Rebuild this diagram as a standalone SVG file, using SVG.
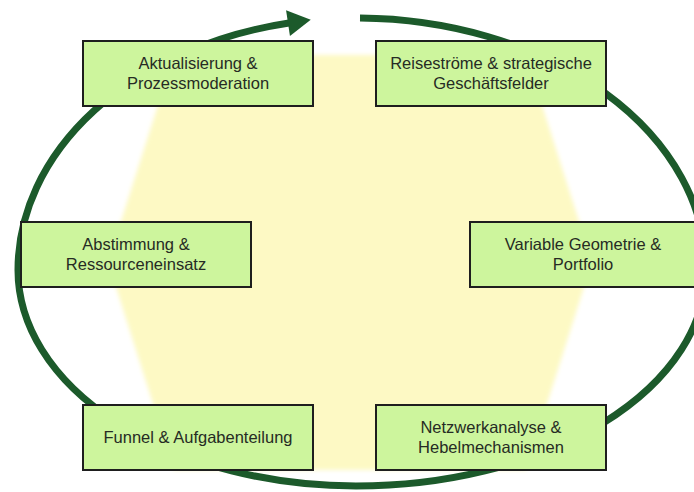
<svg xmlns="http://www.w3.org/2000/svg" width="694" height="492" viewBox="0 0 694 492">
  <style>
    .box rect { fill: #cdf59d; stroke: #1e1e1e; stroke-width: 2; }
    .box text { font-family: "Liberation Sans", Arial, sans-serif; font-size: 16.5px; fill: #262b24; text-anchor: middle; }
    .ring { fill: none; stroke: #1c5a2b; stroke-width: 7; stroke-linecap: butt; }
  </style>
  <defs>
    <marker id="arrow" markerUnits="userSpaceOnUse" markerWidth="28" markerHeight="30" refX="1" refY="13" orient="auto" overflow="visible">
      <path d="M0,0 L23,13 L0,26 Z" fill="#1c5a2b"/>
    </marker>
    <filter id="soft" x="-10%" y="-10%" width="120%" height="120%">
      <feGaussianBlur stdDeviation="2"/>
    </filter>
  </defs>
  <rect width="694" height="492" fill="#ffffff"/>
  <polygon id="hexagon" points="174,55 526,55 592,262 526,470 174,470 108,262" fill="#fdf9c4" filter="url(#soft)"/>
  <g id="connectors">
    <path class="ring" d="M 360 18 A 350 252 0 0 1 706 270 A 350 216 0 0 1 356 486 A 338 216 0 0 1 18 270 A 338 252 0 0 1 289 23" marker-end="url(#arrow)"/>
  </g>
  <g id="n1" class="box">
    <rect x="83" y="41" width="230" height="65"/>
    <text x="198" y="69">Aktualisierung &amp;</text>
    <text x="198" y="89">Prozessmoderation</text>
  </g>
  <g id="n2" class="box">
    <rect x="376" y="41" width="230" height="65"/>
    <text x="491" y="69">Reiseströme &amp; strategische</text>
    <text x="491" y="89">Geschäftsfelder</text>
  </g>
  <g id="n3" class="box">
    <rect x="21" y="222" width="230" height="65"/>
    <text x="136" y="250">Abstimmung &amp;</text>
    <text x="136" y="270">Ressourceneinsatz</text>
  </g>
  <g id="n4" class="box">
    <rect x="470" y="222" width="230" height="65"/>
    <text x="583" y="250">Variable Geometrie &amp;</text>
    <text x="583" y="270">Portfolio</text>
  </g>
  <g id="n5" class="box">
    <rect x="83" y="405" width="230" height="65"/>
    <text x="198" y="443">Funnel &amp; Aufgabenteilung</text>
  </g>
  <g id="n6" class="box">
    <rect x="376" y="405" width="230" height="65"/>
    <text x="491" y="433">Netzwerkanalyse &amp;</text>
    <text x="491" y="453">Hebelmechanismen</text>
  </g>
</svg>
